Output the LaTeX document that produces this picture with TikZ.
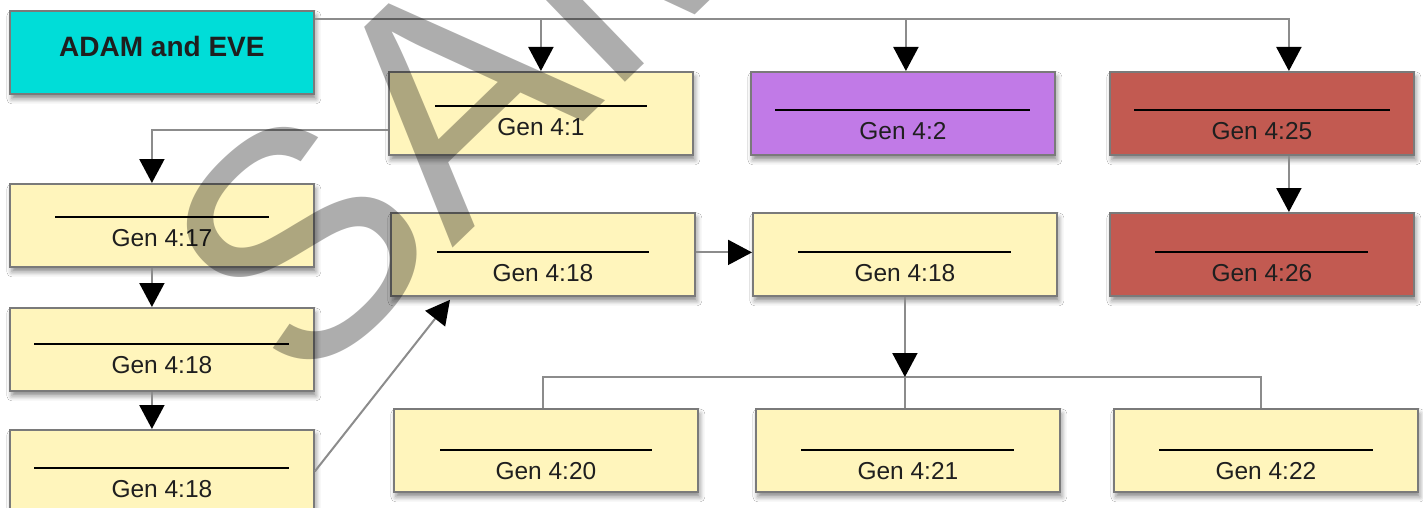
\documentclass[tikz,border=0pt]{standalone}
\usepackage{fontspec}
\setmainfont{Liberation Sans}
\usetikzlibrary{arrows.meta,shadows.blur,calc}
\definecolor{boxyellow}{HTML}{FFF5BC}
\definecolor{boxcyan}{HTML}{00DDD8}
\definecolor{boxpurple}{HTML}{C17AE7}
\definecolor{boxred}{HTML}{C25A51}
\definecolor{boxborder}{HTML}{7A7A7A}
\definecolor{linegray}{HTML}{8C8C8C}
\definecolor{textdark}{HTML}{1F1F1F}
\tikzset{
  gbox/.style={draw=boxborder, line width=1.8pt, minimum width=304pt, minimum height=83pt,
    inner sep=0pt, anchor=north west,
    blur shadow={shadow xshift=2pt, shadow yshift=-5pt, shadow blur radius=5pt, shadow opacity=45}},
  conn/.style={draw=linegray, line width=2pt},
  arr/.style={conn, -{Triangle[length=24pt,width=25pt,color=black]}},
  verse/.style={font=\fontsize{24.5}{24.5}\selectfont, text=textdark, inner sep=0pt, anchor=base},
  blank/.style={fill=black, inner sep=0pt, minimum height=2pt, anchor=center},
  watermark/.style={rotate=44, anchor=base west, inner sep=0pt, text=black, text opacity=0.32,
    font=\fontsize{320}{320}\selectfont}
}
\newcommand\famBox[7]{%
  \node[gbox, fill=#4] (#1) at (#2,#3) {};
  \node[blank, minimum width=#5pt] (#1r) at ($(#1.north)+(0,#6)$) {};
  \node[verse] (#1t) at ($(#1.north)+(0,#6+29.5)$) {#7};
}
\begin{document}
\begin{tikzpicture}[x=1pt,y=-1pt]
\useasboundingbox[fill=white] (0,0) rectangle (1423,508);
% boxes
\node[gbox, fill=boxcyan] (adam) at (9,10) {};
\node[font=\bfseries\fontsize{28}{28}\selectfont, text=textdark, inner sep=0pt, anchor=base] (adamt) at ($(adam.north)+(0,47)$) {ADAM and EVE};
\famBox{b41}{388}{71}{boxyellow}{212}{35}{Gen 4:1}
\famBox{b42}{750}{71}{boxpurple}{255}{39}{Gen 4:2}
\famBox{b425}{1109}{71}{boxred}{256}{39}{Gen 4:25}
\famBox{b417}{9}{183}{boxyellow}{214}{34}{Gen 4:17}
\famBox{b418m}{390}{212}{boxyellow}{212}{40}{Gen 4:18}
\famBox{b418r}{752}{212}{boxyellow}{213}{40}{Gen 4:18}
\famBox{b426}{1109}{212}{boxred}{213}{40}{Gen 4:26}
\famBox{b418a}{9}{307}{boxyellow}{255}{37}{Gen 4:18}
\famBox{b418b}{9}{429}{boxyellow}{255}{39}{Gen 4:18}
\famBox{b420}{393}{408}{boxyellow}{212}{42}{Gen 4:20}
\famBox{b421}{755}{408}{boxyellow}{213}{42}{Gen 4:21}
\famBox{b422}{1113}{408}{boxyellow}{214}{42}{Gen 4:22}
% connectors
\draw[arr] ($(adam.north east)+(0,9)$) -| ($(b425.north)+(27,0)$);
\draw[arr] ($(adam.north east)+(0,9)$) -| (b41.north);
\draw[arr] ($(adam.north east)+(0,9)$) -| ($(b42.north)+(3,0)$);
\draw[arr] ($(b425.south)+(27,0)$) -- ($(b426.north)+(27,0)$);
\draw[arr] ($(b41.west)+(0,17)$) -| ($(b417.north)+(-10,0)$);
\draw[arr] ($(b417.south)+(-10,0)$) -- ($(b418a.north)+(-10,0)$);
\draw[arr] ($(b418a.south)+(-10,0)$) -- ($(b418b.north)+(-10,0)$);
\draw[arr] (b418b.east) -- ($(b418m.south west)+(60,3)$);
\draw[arr] ($(b418m.east)+(0,-2)$) -- ($(b418r.west)+(0,-2)$);
\coordinate (bar) at (0,377);
\draw[conn] ($(b420.north)+(-3,0)$) |- ($(b422.north)+(-5,-31)$) -- ($(b422.north)+(-5,0)$);
\draw[conn] (b421.north -| b418r.south) -- (bar -| b418r.south);
\draw[arr] (b418r.south) -- (bar -| b418r.south);
% watermark
\node[watermark] (wm) at (299,397) {SAMPLE};
\end{tikzpicture}
\end{document}
